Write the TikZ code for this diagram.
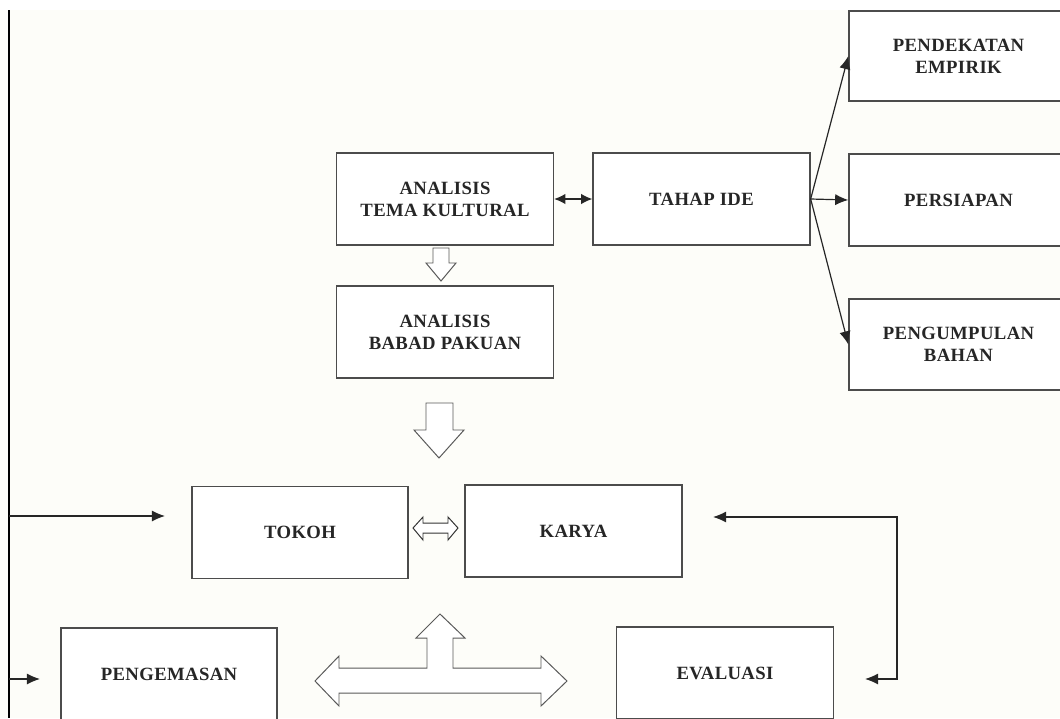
\documentclass[tikz,border=0pt]{standalone}
\usepackage{fontspec}
\setmainfont[LetterSpace=2]{Liberation Serif}
\usetikzlibrary{arrows.meta}
\definecolor{paper}{RGB}{253,253,249}
\tikzset{
  box/.style={draw=black!70, line width=0.9pt, fill=white, inner sep=0pt,
    minimum width=5.425cm, minimum height=2.3cm, align=center,
    text=black!85, font=\fontsize{13.3}{15.6}\selectfont\bfseries},
  conn/.style={draw=black!85, line width=0.85pt, -{Latex[length=3.3mm,width=2.8mm]}},
  hollow/.style={draw=black!65, fill=white, line width=0.7pt, line join=miter}
}

\begin{document}
\begin{tikzpicture}[x=0.025cm, y=-0.025cm]
  \useasboundingbox (0,0) rectangle (1060,718);
  \fill[paper] (0,10) rectangle (1060,718);
  % Boxes of the idea stage
  \node[box] (atk) at (445,199) {ANALISIS\\TEMA KULTURAL};
  \node[box] (ide) at (701.5,199) {TAHAP IDE};
  \node[box] (abp) at (445,332) {ANALISIS\\BABAD PAKUAN};
  \node[box, minimum width=5.475cm, minimum height=2.25cm] (empirik) at (958.5,56) {PENDEKATAN\\EMPIRIK};
  \node[box, minimum width=5.475cm] (persiapan) at (958.5,200) {PERSIAPAN};
  \node[box, minimum width=5.475cm, minimum height=2.275cm] (bahan) at (958.5,344.5) {PENGUMPULAN\\BAHAN};
  % Boxes of the making stage
  \node[box, minimum width=5.4cm] (tokoh) at (300,532.5) {TOKOH};
  \node[box] (karya) at (573.5,531) {KARYA};
  \node[box, minimum width=5.4cm] (kemas) at (169,674) {PENGEMASAN};
  \node[box] (evaluasi) at (725,673) {EVALUASI};
  % Arrows from TAHAP IDE
  \draw[conn, {Latex[length=2.8mm,width=2.6mm]}-{Latex[length=2.8mm,width=2.6mm]}] (atk) -- (ide);
  \draw[conn] (ide.east) -- (empirik.west);
  \draw[conn] (ide.east) -- (persiapan.west);
  \draw[conn] (ide.east) -- (bahan.west);
  % Left line feeding TOKOH and PENGEMASAN
  \coordinate (bustop) at (9,10);
  \coordinate (busbot) at (9,718);
  \coordinate (tokohin) at (165,516);
  \coordinate (kemasin) at (40,679);
  \draw[black, line width=1.5pt] (bustop) -- (busbot);
  \draw[conn] (bustop |- tokohin) -- (tokohin);
  \draw[conn] (bustop |- kemasin) -- (kemasin);
  % Feedback between KARYA and EVALUASI
  \coordinate (karyain) at (713,517);
  \coordinate (fbtop) at (897,517);
  \coordinate (fbbot) at (897,679);
  \coordinate (evalin) at (865,679);
  \draw[conn, {Latex[length=3.3mm,width=2.8mm]}-{Latex[length=3.3mm,width=2.8mm]}]
    (karyain) -- (fbtop) -- (fbbot) -- (evalin);
  % Hollow arrows
  \draw[hollow] (433,248) -- (449,248) -- (449,263) -- (456,263) -- (441,281)
    -- (426,263) -- (433,263) -- cycle;
  \draw[hollow] (426,403) -- (453,403) -- (453,430) -- (464,430) -- (439,458)
    -- (414,430) -- (426,430) -- cycle;
  \draw[hollow, draw=black!80] (413,528) -- (423,517) -- (423,523) -- (448,523) -- (448,517)
    -- (458,528) -- (448,540) -- (448,533) -- (423,533) -- (423,540) -- cycle;
  \draw[hollow] (315,681) -- (339,656) -- (339,668) -- (427,668) -- (427,638)
    -- (416,638) -- (440,614) -- (465,638) -- (453,638) -- (453,668) -- (541,668)
    -- (541,656) -- (567,681) -- (541,706) -- (541,693) -- (339,693) -- (339,706) -- cycle;
\end{tikzpicture}
\end{document}
